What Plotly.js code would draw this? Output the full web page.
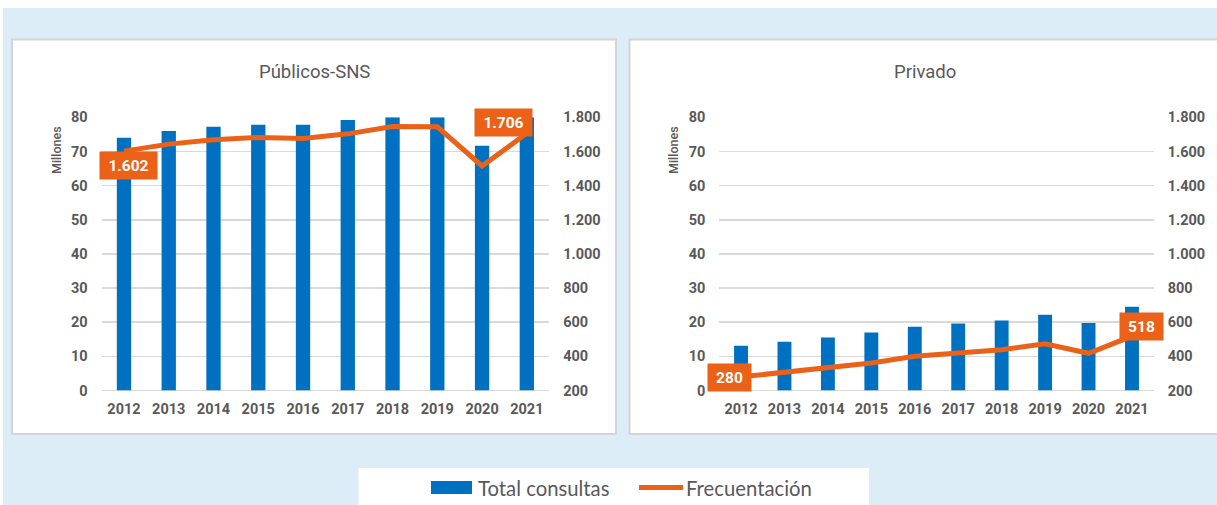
<!DOCTYPE html>
<html>
<head>
<meta charset="utf-8">
<script src="https://cdn.plot.ly/plotly-3.0.1.min.js"></script>
<style>
  html, body { margin: 0; padding: 0; background: #ffffff; }
  #chart { width: 1217px; height: 505px; }
</style>
</head>
<body>
<div id="chart"></div>
<script>
// ---- Data ----
const years = ['2012','2013','2014','2015','2016','2017','2018','2019','2020','2021'];
// Públicos-SNS
const pubConsultas = [74.0, 76.0, 77.2, 77.8, 77.8, 79.2, 80.0, 80.0, 71.7, 80.0];   // millones
const pubFrecuentacion = [1602, 1643, 1668, 1682, 1676, 1703, 1746, 1744, 1515, 1706];
// Privado
const privConsultas = [13.1, 14.3, 15.5, 17.0, 18.7, 19.6, 20.5, 22.2, 19.8, 24.5];  // millones
const privFrecuentacion = [280, 306, 331, 361, 400, 420, 439, 474, 418, 518];

const panelTitles = ['Públicos-SNS', 'Privado'];
const seriesNames = ['Total consultas', 'Frecuentación'];
const axisTitle = 'Millones';

// ---- Styles ----
const W = 1217, H = 505;
const BLUE = '#0070C0';
const ORANGE = '#EA6117';
const GREY_TXT = '#595959';
const GRID = '#D9D9D9';
const BG = '#DDEDF7';
const NARROW = 'Roboto, "Liberation Sans", sans-serif';
const LEG_FONT = 'Lato, "Open Sans", sans-serif';

const px = x => x / W;
const py = y => 1 - y / H;

function fmtES(v) {
  return String(Math.round(v)).replace(/\B(?=(\d{3})+(?!\d))/g, '.');
}

const tickFont = {family: NARROW, size: 14.5, color: GREY_TXT, weight: 'bold'};

const traces = [
  {type: 'bar', x: years, y: pubConsultas, xaxis: 'x', yaxis: 'y', name: seriesNames[0],
   marker: {color: BLUE, line: {width: 0}}, width: 0.32, showlegend: false, hoverinfo: 'skip'},
  {type: 'scatter', mode: 'lines', x: years, y: pubFrecuentacion, xaxis: 'x', yaxis: 'y2', name: seriesNames[1],
   line: {color: ORANGE, width: 5}, showlegend: false, hoverinfo: 'skip'},
  {type: 'bar', x: years, y: privConsultas, xaxis: 'x2', yaxis: 'y3', name: seriesNames[0],
   marker: {color: BLUE, line: {width: 0}}, width: 0.32, showlegend: false, hoverinfo: 'skip'},
  {type: 'scatter', mode: 'lines', x: years, y: privFrecuentacion, xaxis: 'x2', yaxis: 'y4', name: seriesNames[1],
   line: {color: ORANGE, width: 5}, showlegend: false, hoverinfo: 'skip'}
];

const yDom = [py(390.5), py(117.3)];
const leftAxis = (anchor) => ({
  domain: yDom, anchor: anchor, range: [0, 80], dtick: 10, tick0: 0,
  showgrid: true, gridcolor: GRID, gridwidth: 1.7, zeroline: true, zerolinecolor: GRID, zerolinewidth: 1.7,
  showline: false, ticks: '', tickfont: tickFont, ticklabelstandoff: 13, fixedrange: true
});
const rightAxis = (anchor, overlay) => ({
  domain: yDom, anchor: anchor, overlaying: overlay, side: 'right', range: [200, 1800], dtick: 200, tick0: 200,
  showgrid: false, zeroline: false, showline: false, ticks: '', tickformat: ',d',
  tickfont: tickFont, ticklabelstandoff: 13, fixedrange: true
});
const xAxis = (domain, anchor) => ({
  domain: domain, anchor: anchor, type: 'category', range: [-0.5, 9.5],
  showgrid: false, zeroline: false, showline: false, ticks: '', tickfont: tickFont,
  ticklabelstandoff: 8, fixedrange: true
});

const shapes = [
  // white strips at top / left
  {type: 'rect', xref: 'paper', yref: 'paper', x0: 0, x1: 1, y0: py(8), y1: 1, fillcolor: '#ffffff', line: {width: 0}, layer: 'below'},
  {type: 'rect', xref: 'paper', yref: 'paper', x0: 0, x1: px(3), y0: 0, y1: 1, fillcolor: '#ffffff', line: {width: 0}, layer: 'below'},
  // panels
  {type: 'rect', xref: 'paper', yref: 'paper', x0: px(12), x1: px(616), y0: py(434), y1: py(39.5), fillcolor: '#ffffff', line: {color: '#D4D4D4', width: 2}, layer: 'below'},
  {type: 'rect', xref: 'paper', yref: 'paper', x0: px(629.5), x1: px(1222), y0: py(434), y1: py(39.5), fillcolor: '#ffffff', line: {color: '#D4D4D4', width: 2}, layer: 'below'},
  // legend box
  {type: 'rect', xref: 'paper', yref: 'paper', x0: px(358.5), x1: px(869), y0: 0, y1: py(468), fillcolor: '#ffffff', line: {width: 0}, layer: 'below'},
  // legend symbols
  {type: 'rect', xref: 'paper', yref: 'paper', x0: px(431), x1: px(472), y0: py(494), y1: py(481), fillcolor: BLUE, line: {width: 0}},
  {type: 'line', xref: 'paper', yref: 'paper', x0: px(639), x1: px(683), y0: py(487.5), y1: py(487.5), line: {color: ORANGE, width: 5}}
];

// category axes: annotation x is the category's serial position
function valueLabel(xref, yref, xi, arr, xshift, yshift, w) {
  return {xref: xref, yref: yref, x: years.indexOf(years[xi]), y: arr[xi], text: fmtES(arr[xi]), showarrow: false,
    xshift: xshift, yshift: yshift, width: w, height: 27, bgcolor: ORANGE, borderpad: 0,
    font: {family: NARROW, size: 15.5, color: '#ffffff', weight: 'bold'}, align: 'center', valign: 'middle'};
}

const annotations = [
  {xref: 'paper', yref: 'paper', x: px(314.5), y: py(72), text: panelTitles[0], showarrow: false,
   xanchor: 'center', yanchor: 'middle', font: {family: NARROW, size: 18.5, color: GREY_TXT}},
  {xref: 'paper', yref: 'paper', x: px(925), y: py(72), text: panelTitles[1], showarrow: false,
   xanchor: 'center', yanchor: 'middle', font: {family: NARROW, size: 18.5, color: GREY_TXT}},
  {xref: 'paper', yref: 'paper', x: px(56), y: py(150), text: axisTitle, showarrow: false, textangle: -90,
   xanchor: 'center', yanchor: 'middle', font: {family: NARROW, size: 12.5, color: GREY_TXT, weight: 500}},
  {xref: 'paper', yref: 'paper', x: px(673), y: py(150), text: axisTitle, showarrow: false, textangle: -90,
   xanchor: 'center', yanchor: 'middle', font: {family: NARROW, size: 12.5, color: GREY_TXT, weight: 500}},
  valueLabel('x', 'y2', 0, pubFrecuentacion, 5, -14, 57),
  valueLabel('x', 'y2', 9, pubFrecuentacion, -23, 11, 57),
  valueLabel('x2', 'y4', 0, privFrecuentacion, -11.5, -1, 43),
  valueLabel('x2', 'y4', 9, privFrecuentacion, 10, 10, 43),
  {xref: 'paper', yref: 'paper', x: px(476), y: py(487.5), text: seriesNames[0], showarrow: false,
   xanchor: 'left', yanchor: 'middle', font: {family: LEG_FONT, size: 20.3, color: GREY_TXT}},
  {xref: 'paper', yref: 'paper', x: px(684), y: py(487.5), text: seriesNames[1], showarrow: false,
   xanchor: 'left', yanchor: 'middle', font: {family: LEG_FONT, size: 20.3, color: GREY_TXT}}
];

const layout = {
  width: W, height: H,
  margin: {l: 0, r: 0, t: 0, b: 0, pad: 0},
  paper_bgcolor: BG, plot_bgcolor: 'rgba(0,0,0,0)',
  separators: ',.',
  showlegend: false, barmode: 'overlay',
  xaxis: xAxis([px(101.6), px(549.2)], 'y'),
  yaxis: leftAxis('x'),
  yaxis2: rightAxis('x', 'y'),
  xaxis2: xAxis([px(719.3), px(1153.7)], 'y3'),
  yaxis3: leftAxis('x2'),
  yaxis4: rightAxis('x2', 'y3'),
  shapes: shapes,
  annotations: annotations
};

Plotly.newPlot('chart', traces, layout, {displayModeBar: false, staticPlot: true});
</script>
</body>
</html>
